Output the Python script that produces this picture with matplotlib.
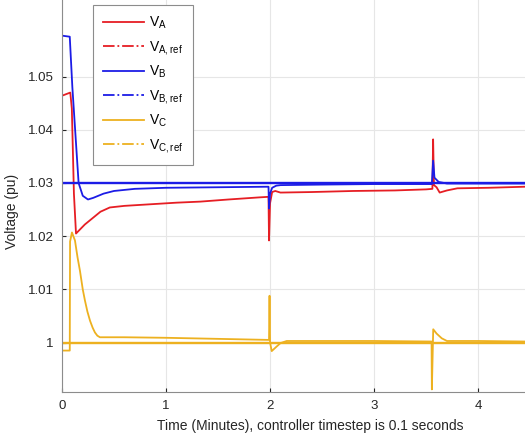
import matplotlib
matplotlib.use("Agg")
import matplotlib.pyplot as plt
from matplotlib.lines import Line2D

# Readings taken off the chart (time in minutes, voltage in pu)
t_a = [0, 0.08, 0.095, 0.115, 0.135, 0.17, 0.22, 0.27, 0.37, 0.46, 0.6, 0.85, 1.1, 1.33, 1.6, 1.9, 1.985,
       1.99, 2.0, 2.02, 2.05, 2.1, 2.4, 2.8, 3.2, 3.5, 3.56, 3.567, 3.575, 3.6, 3.63, 3.7, 3.8, 4.1, 4.45]
v_a = [1.0464, 1.0470, 1.0440, 1.0280, 1.0205, 1.0212, 1.0222, 1.0230, 1.0246, 1.0254, 1.0257, 1.0260,
       1.0263, 1.0265, 1.0269, 1.0273, 1.0274, 1.0192, 1.0262, 1.0283, 1.0285, 1.0282, 1.0283, 1.0285,
       1.0286, 1.0288, 1.0289, 1.0382, 1.0296, 1.0292, 1.0282, 1.0286, 1.0290, 1.0291, 1.0293]

t_b = [0, 0.075, 0.1, 0.16, 0.2, 0.25, 0.3, 0.4, 0.5, 0.7, 1.0, 1.5, 1.985, 1.99, 2.0, 2.02, 2.06, 2.1,
       2.5, 3.0, 3.555, 3.567, 3.58, 3.62, 3.7, 4.0, 4.45]
v_b = [1.0577, 1.0575, 1.0480, 1.0300, 1.0276, 1.0269, 1.0272, 1.0280, 1.0285, 1.0289, 1.0291, 1.0292,
       1.0293, 1.0252, 1.0280, 1.0291, 1.0295, 1.0296, 1.0297, 1.0298, 1.0298, 1.0342, 1.0310, 1.0302,
       1.0299, 1.0299, 1.0299]

t_c = [0, 0.075, 0.078, 0.096, 0.125, 0.15, 0.173, 0.2, 0.221, 0.245, 0.27, 0.295, 0.317, 0.34, 0.365,
       0.6, 1.0, 1.5, 1.99, 1.995, 2.0, 2.016, 2.06, 2.1, 2.16, 2.5, 3.0, 3.552, 3.555, 3.568, 3.6, 3.65,
       3.7, 4.0, 4.45]
v_c = [0.9985, 0.9985, 1.0190, 1.0207, 1.0192, 1.0160, 1.0135, 1.0100, 1.0079, 1.0058, 1.0041, 1.0028,
       1.0019, 1.0013, 1.0010, 1.0010, 1.0009, 1.0007, 1.0005, 1.0088, 1.0000, 0.9984, 0.9992, 0.9999,
       1.0003, 1.0003, 1.0003, 1.0002, 0.9912, 1.0025, 1.0017, 1.0008, 1.0003, 1.0003, 1.0002]

t_ref = [0, 4.45]
va_ref = [1.03, 1.03]
vb_ref = [1.03, 1.03]
vc_ref = [1.0, 1.0]

labels = [r"V$_\mathregular{A}$", r"V$_\mathregular{A,ref}$", r"V$_\mathregular{B}$",
          r"V$_\mathregular{B,ref}$", r"V$_\mathregular{C}$", r"V$_\mathregular{C,ref}$"]

red = "#e61e24"
blue = "#1c1ce6"
gold = "#edb120"

plt.rcParams["font.family"] = ["Liberation Sans", "DejaVu Sans"]

fig = plt.figure(figsize=(5.25, 4.42), dpi=100)
ax = fig.add_axes([0.118, 0.113, 0.882, 0.887])

lw = 1.3
ax.plot(t_a, v_a, color=red, lw=lw)
ax.plot(t_ref, va_ref, color=red, lw=lw)
ax.plot(t_b, v_b, color=blue, lw=lw)
ax.plot(t_ref, vb_ref, color=blue, lw=lw + 0.4)
ax.plot(t_c, v_c, color=gold, lw=lw)
ax.plot(t_ref, vc_ref, color=gold, lw=lw + 0.4)

ax.set_xlim(0, 4.45)
ax.set_ylim(0.9907, 1.0644)
ax.set_xticks([0, 1, 2, 3, 4])
ax.set_yticks([1.0, 1.01, 1.02, 1.03, 1.04, 1.05])
ax.set_yticklabels(["1", "1.01", "1.02", "1.03", "1.04", "1.05"])
ax.grid(True, color="#e6e6e6", lw=0.8)
ax.set_axisbelow(True)
ax.tick_params(direction="in", length=3, labelsize=9.5, colors="#262626", pad=6)
for s in ["top", "right"]:
    ax.spines[s].set_visible(False)
for s in ["left", "bottom"]:
    ax.spines[s].set_color("#8c8c8c")

ax.set_xlabel("Time (Minutes), controller timestep is 0.1 seconds", fontsize=10, color="#262626")
ax.xaxis.set_label_coords(0.536, -0.07)
ax.set_ylabel("Voltage (pu)", fontsize=10, color="#262626")
ax.yaxis.set_label_coords(-0.093, 0.46)

# Legend shows the reference lines dash-dotted
handles = [Line2D([], [], color=red, lw=lw), Line2D([], [], color=red, lw=lw, ls="-."),
           Line2D([], [], color=blue, lw=lw), Line2D([], [], color=blue, lw=lw, ls="-."),
           Line2D([], [], color=gold, lw=lw), Line2D([], [], color=gold, lw=lw, ls="-.")]
leg = ax.legend(handles, labels, loc="upper left", bbox_to_anchor=(0.067, 0.987), borderaxespad=0,
                fontsize=10, handlelength=2.95, labelspacing=0.53, fancybox=False, framealpha=1,
                edgecolor="#8c8c8c", handletextpad=0.4, borderpad=0.7)
leg.get_frame().set_linewidth(0.8)

fig.savefig("out.png", dpi=100)
